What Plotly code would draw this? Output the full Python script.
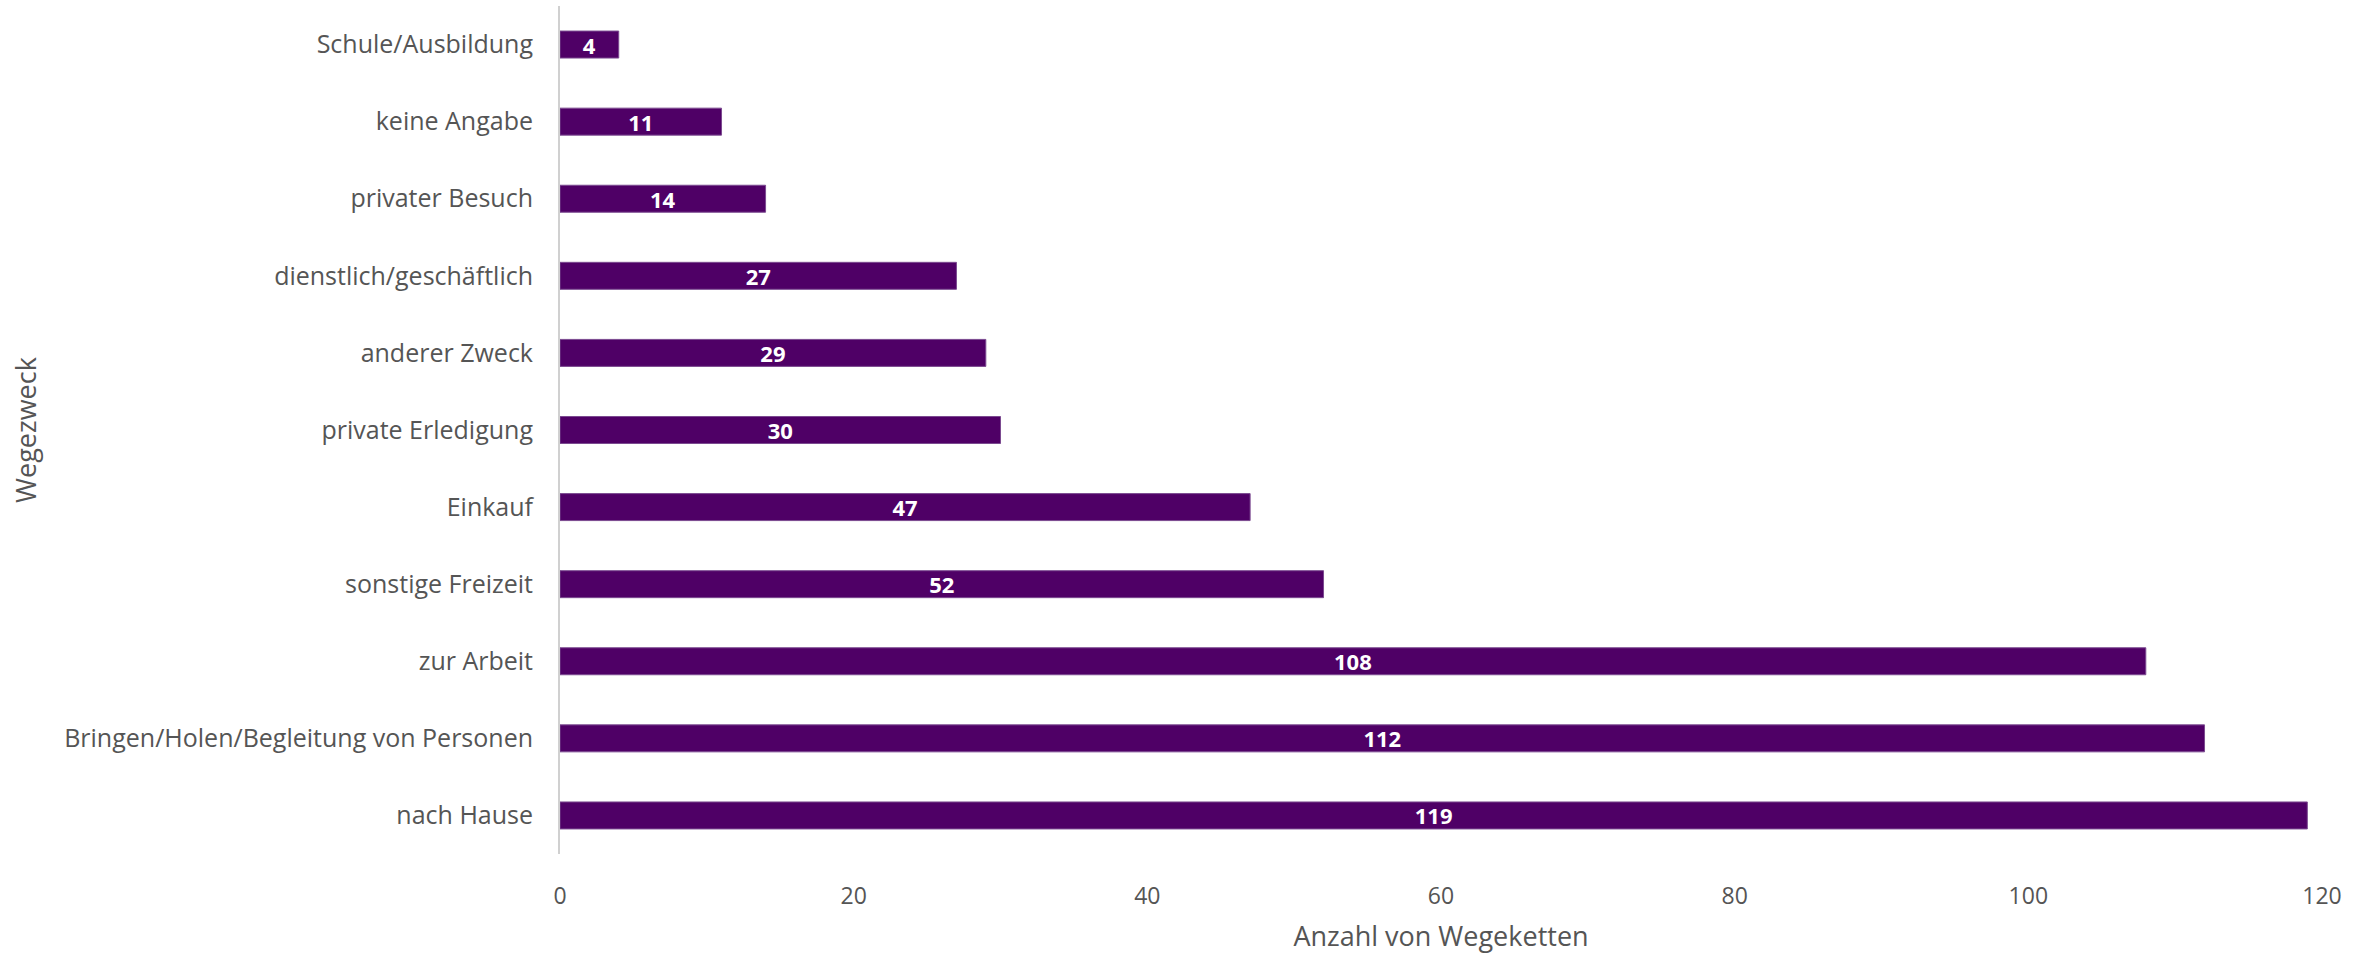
import plotly.graph_objects as go

categories = [
    "nach Hause",
    "Bringen/Holen/Begleitung von Personen",
    "zur Arbeit",
    "sonstige Freizeit",
    "Einkauf",
    "private Erledigung",
    "anderer Zweck",
    "dienstlich/geschäftlich",
    "privater Besuch",
    "keine Angabe",
    "Schule/Ausbildung",
]
values = [119, 112, 108, 52, 47, 30, 29, 27, 14, 11, 4]
x_ticks = [0, 20, 40, 60, 80, 100, 120]

FONT = "Open Sans"
GREY = "#555555"

fig = go.Figure(
    go.Bar(
        x=values,
        y=categories,
        orientation="h",
        width=0.35,
        marker=dict(color="#4f0066", line=dict(color="#7b4a90", width=1)),
        text=[str(v) for v in values],
        textposition="inside",
        insidetextanchor="middle",
        constraintext="none",
        textangle=0,
        textfont=dict(family=FONT, size=22, color="white", weight="bold"),
        cliponaxis=False,
        hoverinfo="x+y",
    )
)

fig.update_layout(
    width=2372,
    height=954,
    margin=dict(l=560, r=50, t=6, b=100),
    plot_bgcolor="white",
    paper_bgcolor="white",
    showlegend=False,
    font=dict(family=FONT, size=25, color=GREY),
)

fig.update_xaxes(
    range=[0, 120],
    tickvals=x_ticks,
    ticktext=[str(t) for t in x_ticks],
    showgrid=False,
    zeroline=False,
    showline=False,
    ticks="",
    ticklabelstandoff=26,
    automargin=False,
    tickfont=dict(family=FONT, size=23, color=GREY),
    title=dict(text="Anzahl von Wegeketten", font=dict(family=FONT, size=27, color=GREY), standoff=22),
)

fig.update_yaxes(
    categoryorder="array",
    categoryarray=categories,
    showgrid=False,
    zeroline=False,
    showline=True,
    linecolor="#d0d0d0",
    linewidth=2,
    ticks="",
    ticklabelstandoff=20,
    automargin=False,
    tickfont=dict(family=FONT, size=25, color=GREY),
    title=dict(text="Wegezweck", font=dict(family=FONT, size=27, color=GREY), standoff=20),
)

fig.write_html(
    "out.html",
    config={"displayModeBar": False},
    post_script="document.body.style.margin='0';",
)
